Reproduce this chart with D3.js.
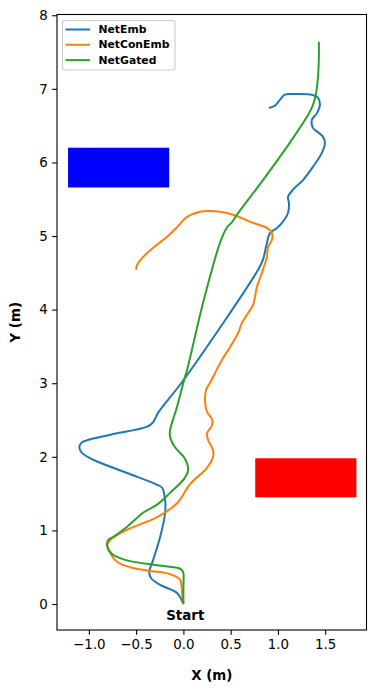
<!DOCTYPE html>
<html><head><meta charset="utf-8">
<script src="https://cdn.jsdelivr.net/npm/d3@7"></script>
<style>
html,body{margin:0;padding:0;background:#fff;}
svg{display:block;font-family:"DejaVu Sans",sans-serif;}
</style></head>
<body>
<svg id="chart" width="376" height="692"></svg>
<script>
const seriesNames = ["NetEmb", "NetConEmb", "NetGated"];
const seriesColors = ["#1f77b4", "#ff7f0e", "#2ca02c"];

const netEmbX = [0,-0.067,-0.246,-0.341,-0.362,-0.32,-0.246,-0.193,-0.193,-0.225,-0.278,-0.595,-0.954,-1.07,-1.10,-1.08,-1.03,-0.774,-0.383,-0.32,-0.267,0,0.789,0.842,0.884,0.916,0.99,1.043,1.106,1.117,1.106,1.159,1.265,1.37,1.465,1.497,1.476,1.423,1.37,1.36,1.413,1.444,1.423,1.36,1.159,1.074,1.021,0.968,0.905];
const netEmbY = [0,0.15,0.26,0.35,0.43,0.60,0.91,1.24,1.41,1.58,1.62,1.78,1.96,2.05,2.12,2.19,2.22,2.30,2.41,2.47,2.60,3.04,4.54,4.68,4.91,5.04,5.11,5.18,5.31,5.45,5.53,5.63,5.76,5.94,6.13,6.27,6.35,6.41,6.47,6.58,6.67,6.78,6.88,6.92,6.93,6.92,6.85,6.77,6.74];

const netConEmbX = [0,-0.014,-0.035,-0.109,-0.183,-0.352,-0.563,-0.70,-0.774,-0.806,-0.774,-0.595,-0.278,-0.067,0.071,0.25,0.314,0.314,0.261,0.25,0.303,0.303,0.25,0.229,0.24,0.293,0.335,0.409,0.493,0.578,0.62,0.683,0.736,0.757,0.778,0.831,0.884,0.895,0.937,0.937,0.884,0.736,0.525,0.388,0.282,0.176,0.039,-0.067,-0.172,-0.32,-0.436,-0.489,-0.50];
const netConEmbY = [0,0.15,0.33,0.39,0.42,0.45,0.50,0.57,0.69,0.80,0.87,1.01,1.18,1.37,1.63,1.85,2.00,2.09,2.23,2.32,2.43,2.51,2.61,2.77,2.91,3.03,3.14,3.32,3.49,3.68,3.82,3.95,4.06,4.17,4.31,4.50,4.72,4.85,4.95,5.04,5.11,5.18,5.29,5.33,5.34,5.33,5.26,5.12,4.99,4.84,4.70,4.61,4.54];

const netGatedX = [0,0,0,-0.014,-0.056,-0.30,-0.616,-0.753,-0.806,-0.795,-0.743,-0.595,-0.426,-0.278,-0.141,0.007,0.05,0.018,-0.088,-0.141,-0.141,-0.067,0.007,0.039,0.208,0.388,0.462,0.515,0.567,0.842,1.127,1.307,1.37,1.402,1.423,1.433,1.433];
const netGatedY = [0,0.22,0.42,0.46,0.49,0.53,0.60,0.68,0.79,0.87,0.91,1.05,1.24,1.35,1.51,1.70,1.82,1.97,2.13,2.27,2.36,2.68,3.04,3.18,4.09,4.91,5.12,5.19,5.29,5.76,6.27,6.62,6.78,6.93,7.15,7.43,7.64];

const obstacleNames = ["blue", "red"];
const obstacleX0 = [-1.22, 0.76];
const obstacleX1 = [-0.15, 1.83];
const obstacleY0 = [5.66, 1.45];
const obstacleY1 = [6.20, 1.98];
const obstacleColors = ["#0000ff", "#ff0000"];

const xTicks = [-1.0, -0.5, 0.0, 0.5, 1.0, 1.5];
const yTicks = [0, 1, 2, 3, 4, 5, 6, 7, 8];
const xDomain = [-1.337, 1.937];
const yDomain = [-0.353, 8.01];

const startLabel = {text: "Start", x: 0.02, y: -0.15};

const svg = d3.select("#chart");
const L = 57, R = 366.5, T = 14.5, B = 630;
const x = d3.scaleLinear().domain(xDomain).range([L, R]);
const y = d3.scaleLinear().domain(yDomain).range([B, T]);

// obstacles
obstacleNames.forEach((n, i) => {
  svg.append("rect")
    .attr("x", x(obstacleX0[i])).attr("y", y(obstacleY1[i]))
    .attr("width", x(obstacleX1[i]) - x(obstacleX0[i]))
    .attr("height", y(obstacleY0[i]) - y(obstacleY1[i]))
    .attr("fill", obstacleColors[i]);
});

const series = [
  {xs: netEmbX, ys: netEmbY},
  {xs: netConEmbX, ys: netConEmbY},
  {xs: netGatedX, ys: netGatedY}
];
const line = d3.line().x(d => x(d[0])).y(d => y(d[1])).curve(d3.curveCatmullRom.alpha(0.5));
const clipId = "plotclip";
svg.append("clipPath").attr("id", clipId).append("rect")
  .attr("x", L).attr("y", T).attr("width", R - L).attr("height", B - T);
series.forEach((s, i) => {
  const pts = s.xs.map((v, k) => [v, s.ys[k]]);
  svg.append("path").attr("d", line(pts))
    .attr("fill", "none").attr("stroke", seriesColors[i])
    .attr("stroke-width", 2).attr("stroke-linejoin", "round").attr("stroke-linecap", "butt")
    .attr("clip-path", `url(#${clipId})`);
});

// start label
svg.append("text").attr("x", x(startLabel.x)).attr("y", y(startLabel.y))
  .attr("text-anchor", "middle").attr("dominant-baseline", "central")
  .attr("font-size", 13.4).attr("font-weight", "bold").text(startLabel.text);

// axes
const xAxis = d3.axisBottom(x).tickValues(xTicks).tickSize(4.8).tickPadding(4.5)
  .tickFormat(d => d3.format(".1f")(d).replace("-", "\u2212"));
const yAxis = d3.axisLeft(y).tickValues(yTicks).tickSize(4.8).tickPadding(4.5)
  .tickFormat(d3.format("d"));
const gx = svg.append("g").attr("transform", `translate(0,${B})`).call(xAxis);
const gy = svg.append("g").attr("transform", `translate(${L},0)`).call(yAxis);
[gx, gy].forEach(g => {
  g.select(".domain").remove();
  g.selectAll("text").attr("font-size", 13.4).attr("fill", "#000").attr("font-family", "DejaVu Sans");
  g.selectAll("line").attr("stroke", "#000").attr("stroke-width", 1.1);
});

// frame
svg.append("rect").attr("x", L).attr("y", T).attr("width", R - L).attr("height", B - T)
  .attr("fill", "none").attr("stroke", "#000").attr("stroke-width", 1.1);

// axis labels
svg.append("text").attr("x", (L + R) / 2).attr("y", 675)
  .attr("text-anchor", "middle").attr("dominant-baseline", "central")
  .attr("font-size", 13.4).attr("font-weight", "bold").text("X (m)");
svg.append("text").attr("transform", `translate(15.5,${(T + B) / 2}) rotate(-90)`)
  .attr("text-anchor", "middle").attr("dominant-baseline", "central")
  .attr("font-size", 13.4).attr("font-weight", "bold").text("Y (m)");

// legend
const lg = svg.append("g");
lg.append("rect").attr("x", 62.5).attr("y", 20.5).attr("width", 112.5).attr("height", 49.5)
  .attr("rx", 2.5).attr("fill", "#fff").attr("fill-opacity", 0.8)
  .attr("stroke", "#ccc").attr("stroke-width", 1.1);
seriesNames.forEach((n, i) => {
  const cy = 29.5 + i * 15.3;
  lg.append("line").attr("x1", 65.5).attr("x2", 90).attr("y1", cy).attr("y2", cy)
    .attr("stroke", seriesColors[i]).attr("stroke-width", 2);
  lg.append("text").attr("x", 98.5).attr("y", cy).attr("dominant-baseline", "central")
    .attr("font-size", 10.8).attr("font-weight", "bold").text(n);
});
</script>
</body></html>
